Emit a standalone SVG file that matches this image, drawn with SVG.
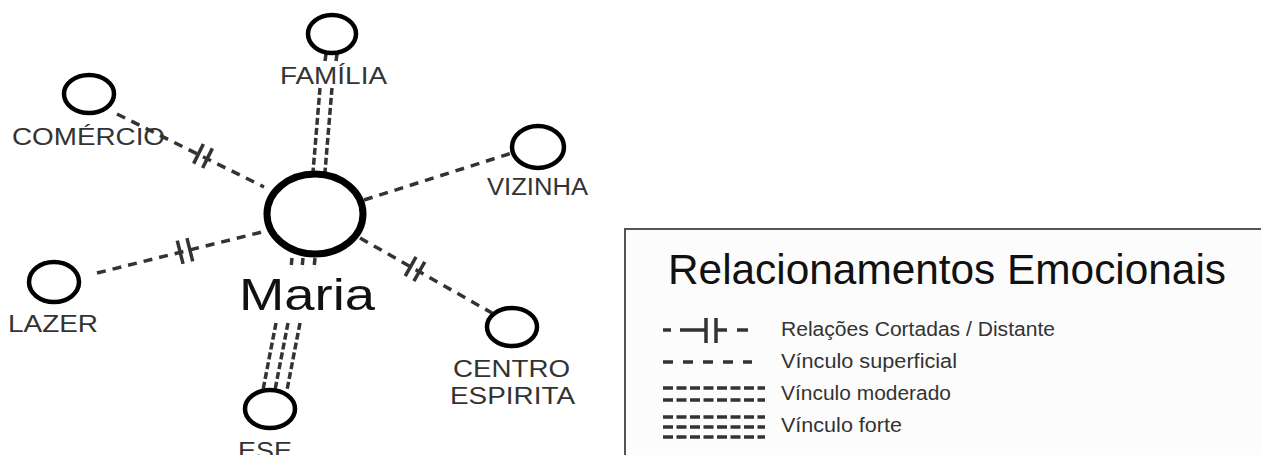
<svg xmlns="http://www.w3.org/2000/svg" width="1261" height="455" viewBox="0 0 1261 455">
<style>
.node{fill:none;stroke:#000;stroke-width:4.5}
.lbl{font-family:"Liberation Sans",Arial,sans-serif;fill:#333;font-size:23px}
.sup{fill:none;stroke:#333;stroke-width:3.5;stroke-dasharray:9 7}
.dbl{fill:none;stroke:#333;stroke-width:3.5;stroke-dasharray:7 3}
.cut{stroke:#333;stroke-width:3.5}
.leg{font-family:"Liberation Sans",Arial,sans-serif;fill:#333;font-size:20px}
</style>
<rect width="1261" height="455" fill="#fff"/>
<g id="connectors">
  <line class="sup" x1="117" y1="114" x2="264" y2="187"/>
  <g transform="translate(203,156) rotate(26.4)"><line class="cut" x1="-5" y1="-11" x2="-5" y2="11"/><line class="cut" x1="5" y1="-11" x2="5" y2="11"/></g>
  <line class="sup" x1="364" y1="200" x2="512" y2="153"/>
  <line class="sup" x1="97" y1="273" x2="266" y2="231"/>
  <g transform="translate(185,251) rotate(-14)"><line class="cut" x1="-5" y1="-12" x2="-5" y2="12"/><line class="cut" x1="5" y1="-12" x2="5" y2="12"/></g>
  <line class="sup" x1="360" y1="238" x2="492" y2="313"/>
  <g transform="translate(415,269) rotate(29.6)"><line class="cut" x1="-5" y1="-11" x2="-5" y2="11"/><line class="cut" x1="5" y1="-11" x2="5" y2="11"/></g>
  <line class="dbl" x1="326" y1="54" x2="325" y2="61"/>
  <line class="dbl" x1="337" y1="54" x2="336" y2="61"/>
  <line class="dbl" x1="320" y1="88" x2="313" y2="172"/>
  <line class="dbl" x1="332" y1="88" x2="325" y2="172"/>
  <line class="dbl" x1="292" y1="258" x2="291" y2="268"/>
  <line class="dbl" x1="303" y1="258" x2="302" y2="268"/>
  <line class="dbl" x1="315" y1="258" x2="314" y2="268"/>
  <line class="dbl" x1="276" y1="323" x2="263" y2="390"/>
  <line class="dbl" x1="288" y1="323" x2="275" y2="390"/>
  <line class="dbl" x1="300" y1="323" x2="287" y2="390"/>
</g>
<g id="maria"><ellipse cx="315" cy="214" rx="48" ry="40" fill="#fff" stroke="#000" stroke-width="7"/><text class="lbl" x="239" y="310" style="font-size:44px;fill:#111" textLength="136" lengthAdjust="spacingAndGlyphs">Maria</text></g>
<g id="familia"><ellipse class="node" cx="332" cy="34" rx="24" ry="19"/><text class="lbl" x="280" y="84" textLength="107" lengthAdjust="spacingAndGlyphs">FAMÍLIA</text></g>
<g id="comercio"><ellipse class="node" cx="89" cy="94" rx="25" ry="19"/><text class="lbl" x="12" y="145" textLength="153" lengthAdjust="spacingAndGlyphs">COMÉRCIO</text></g>
<g id="vizinha"><ellipse class="node" cx="538" cy="147" rx="26" ry="21"/><text class="lbl" x="487" y="195" textLength="101" lengthAdjust="spacingAndGlyphs">VIZINHA</text></g>
<g id="lazer"><ellipse class="node" cx="54" cy="282" rx="25" ry="20"/><text class="lbl" x="8" y="332" textLength="90" lengthAdjust="spacingAndGlyphs">LAZER</text></g>
<g id="centro"><ellipse class="node" cx="512" cy="327" rx="25" ry="19"/><text class="lbl" x="453" y="377" textLength="117" lengthAdjust="spacingAndGlyphs">CENTRO</text><text class="lbl" x="450" y="404" textLength="125" lengthAdjust="spacingAndGlyphs">ESPIRITA</text></g>
<g id="ese"><ellipse class="node" cx="270" cy="409" rx="25" ry="19"/><text class="lbl" x="238" y="459" textLength="54" lengthAdjust="spacingAndGlyphs">ESE</text></g>
<g id="legend">
  <rect x="625" y="229" width="650" height="240" fill="#fcfcfc" stroke="#555" stroke-width="2"/>
  <text class="leg" x="668" y="284" style="font-size:42px;fill:#111" textLength="558" lengthAdjust="spacingAndGlyphs">Relacionamentos Emocionais</text>
  <g stroke="#333" stroke-width="3.5">
    <line x1="663" y1="330" x2="671" y2="330"/><line x1="680" y1="330" x2="706" y2="330"/>
    <line x1="706" y1="318" x2="706" y2="343"/><line x1="716" y1="318" x2="716" y2="343"/>
    <line x1="716" y1="330" x2="727" y2="330"/><line x1="737" y1="330" x2="748" y2="330"/>
    <line x1="663" y1="362" x2="752" y2="362" stroke-dasharray="10 10"/>
    <line x1="663" y1="388" x2="765" y2="388" stroke-dasharray="10 3.5"/>
    <line x1="663" y1="400" x2="765" y2="400" stroke-dasharray="10 3.5"/>
    <line x1="663" y1="417" x2="765" y2="417" stroke-dasharray="10 3.5"/>
    <line x1="663" y1="427" x2="765" y2="427" stroke-dasharray="10 3.5"/>
    <line x1="663" y1="437" x2="765" y2="437" stroke-dasharray="10 3.5"/>
  </g>
  <text class="leg" x="781" y="336" textLength="274" lengthAdjust="spacingAndGlyphs">Relações Cortadas / Distante</text>
  <text class="leg" x="781" y="368" textLength="176" lengthAdjust="spacingAndGlyphs">Vínculo superficial</text>
  <text class="leg" x="781" y="400" textLength="170" lengthAdjust="spacingAndGlyphs">Vínculo moderado</text>
  <text class="leg" x="781" y="432" textLength="121" lengthAdjust="spacingAndGlyphs">Vínculo forte</text>
</g>
</svg>
